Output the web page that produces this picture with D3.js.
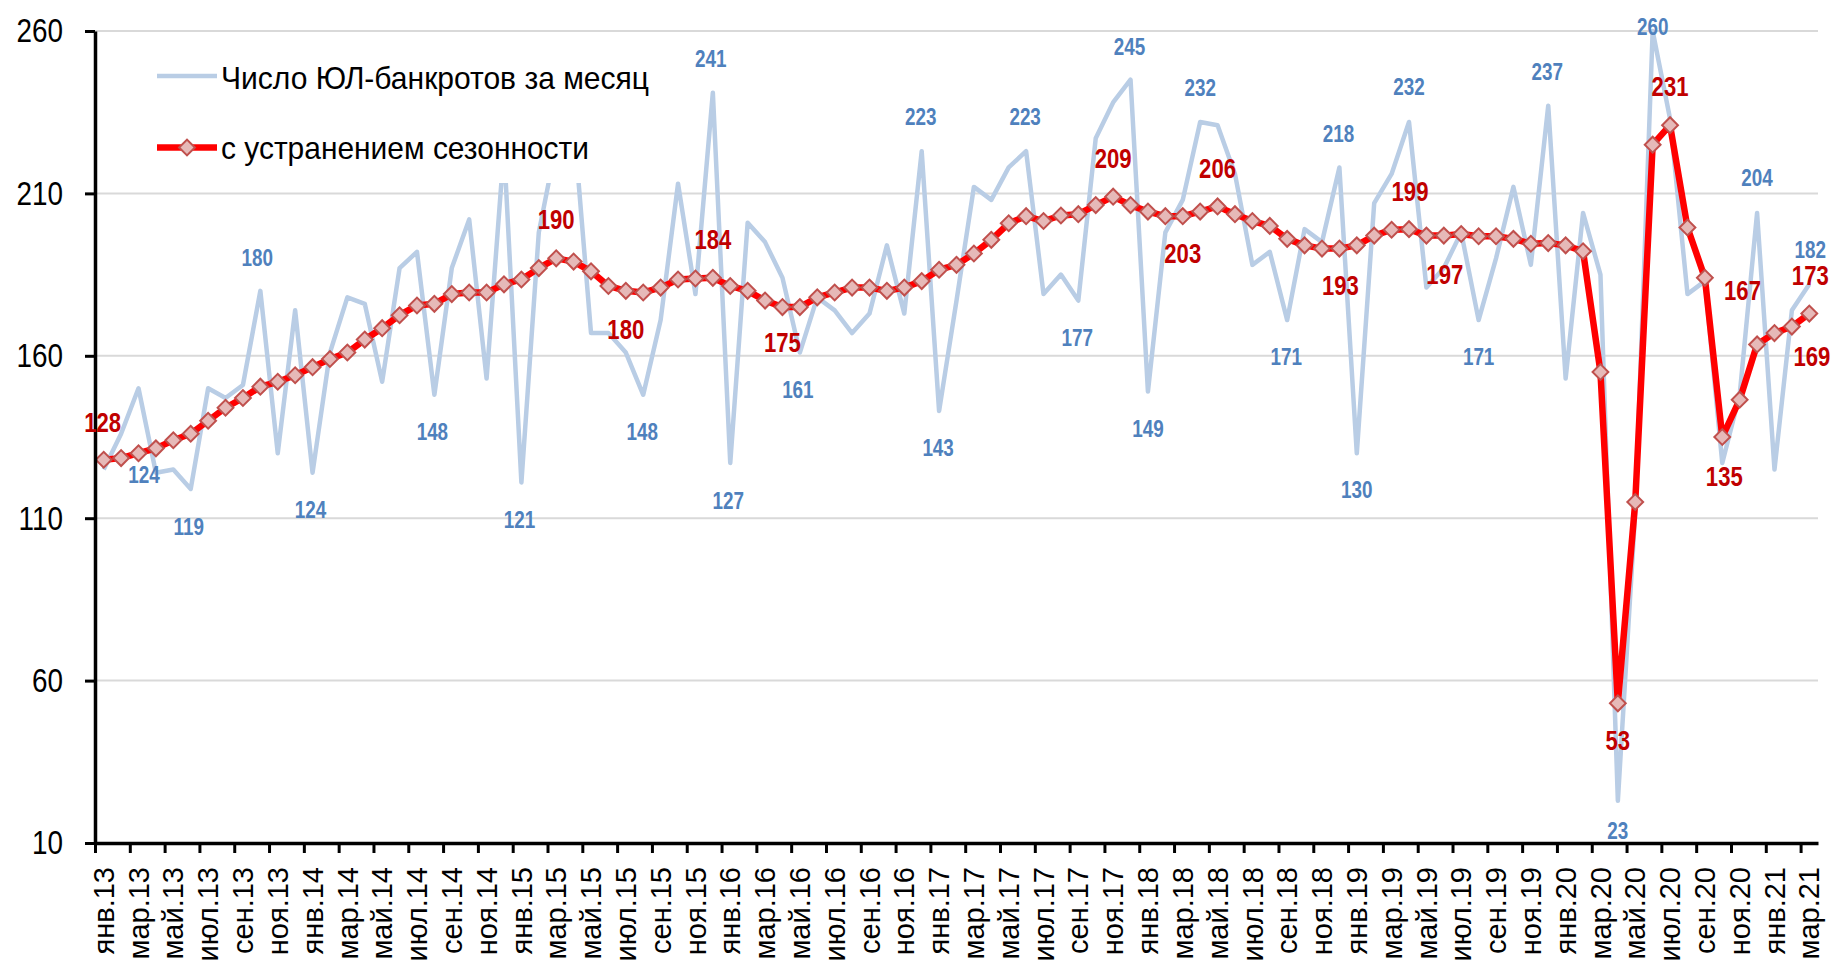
<!DOCTYPE html>
<html><head><meta charset="utf-8">
<script src="https://cdn.jsdelivr.net/npm/d3@7"></script>
<style>body{margin:0;background:#fff}svg{display:block}</style>
</head><body>
<svg id="chart" width="1833" height="964"></svg>
<script>
// ---------- DATA ----------
const categories = [
 "янв.13","фев.13","мар.13","апр.13","май.13","июн.13","июл.13","авг.13","сен.13","окт.13","ноя.13","дек.13",
 "янв.14","фев.14","мар.14","апр.14","май.14","июн.14","июл.14","авг.14","сен.14","окт.14","ноя.14","дек.14",
 "янв.15","фев.15","мар.15","апр.15","май.15","июн.15","июл.15","авг.15","сен.15","окт.15","ноя.15","дек.15",
 "янв.16","фев.16","мар.16","апр.16","май.16","июн.16","июл.16","авг.16","сен.16","окт.16","ноя.16","дек.16",
 "янв.17","фев.17","мар.17","апр.17","май.17","июн.17","июл.17","авг.17","сен.17","окт.17","ноя.17","дек.17",
 "янв.18","фев.18","мар.18","апр.18","май.18","июн.18","июл.18","авг.18","сен.18","окт.18","ноя.18","дек.18",
 "янв.19","фев.19","мар.19","апр.19","май.19","июн.19","июл.19","авг.19","сен.19","окт.19","ноя.19","дек.19",
 "янв.20","фев.20","мар.20","апр.20","май.20","июн.20","июл.20","авг.20","сен.20","окт.20","ноя.20","дек.20",
 "янв.21","фев.21","мар.21"
];
const monthly = [
 125,136,150,124,125,119,150,147,151,180,130,174,
 124,161,178,176,152,187,192,148,187,202,153,224,
 121,198,225,232,167,167,161,148,171,213,179,241,
 127,201,195,184,161,178,174,167,173,194,173,223,
 143,177,212,208,218,223,179,185,177,227,238,245,
 149,198,208,232,231,216,188,192,171,199,195,218,
 130,207,216,232,181,187,198,171,190,212,188,237,
 153,204,185,23,112,260,233,179,183,127,148,204,
 125,174,182
];
const adjusted = [
 128,128.5,130,131.5,134,136,140,144,147,150.5,152,154,
 156.5,159,161,165,168.5,172.5,175.5,176,179,179.5,179.5,182,
 183.5,187,190,189,186,181.5,180,179.5,181,183.5,183.8,184,
 181.5,180,177,175,175,178,179.5,181,181,180,181,183,
 186.5,188,191.5,195.7,200.8,203,201.5,203.2,203.6,206.4,209,206.4,
 204.4,203,203,204.4,206,203.6,201.5,200,196,194,193,193,
 194,197,198.8,199,197,197,197.5,196.8,196.8,196,194.5,194.7,
 194,192.2,155,53,115,225,231,199.5,184,135,146.5,163.5,
 167,169,173
];
const yTicks = [10, 60, 110, 160, 210, 260];
const seriesNames = ["Число ЮЛ-банкротов за месяц", "с устранением сезонности"];
const monthlyLabelIdx = [3,5,9,12,19,24,31,35,36,40,47,48,53,56,59,60,63,68,71,72,75,79,83,87,89,95,98];
const adjustedLabelIdx = [0,26,30,35,39,58,62,64,71,75,77,87,90,93,96,97,98];

// ---------- LAYOUT / STYLE ----------
const monthlyLabelOffset = {3:[-12,2],5:[-2,38],9:[-3,-33],12:[-2,37],19:[-2,37],24:[-2,37],31:[-1,37],
  35:[-2,-34],36:[-2,38],40:[-2,37],47:[-1,-34],48:[-1,37],53:[-1,-34],56:[-1,37],59:[-1,-33],60:[0,37],
  63:[0,-34],68:[-1,37],71:[-1,-34],72:[0,36],75:[0,-35],79:[0,37],83:[-1,-34],87:[0,30],89:[0,-4],95:[0,-35],98:[1,-35]};
const adjustedLabelOffset = {0:[-1,-37],26:[0,-39],30:[0,38],35:[0,-39],39:[0,35],58:[0,-38],62:[0,37],
  64:[0,-38],71:[1,37],75:[1,-38],77:[1,39],87:[0,37],90:[0,-39],93:[2,39],96:[-32,-43],97:[20,30],98:[1,-38]};
const FONT = "'Liberation Sans',Arial,sans-serif";
const NARROW_X = 0.82;   // emulate Arial Narrow
const C = {grid:"#d9d9d9", blue:"#b9cde5", blueText:"#4f81bd", red:"#ff0000", redText:"#c00000",
           mFill:"#e6b9b8", mStroke:"#c0504d"};

const svg = d3.select("#chart");
const X0 = 95, X1 = 1818, Y0 = 31, Y1 = 843;
const x = d3.scaleBand().domain(d3.range(categories.length)).range([X0, X1]);
const cx = i => x(i) + x.bandwidth() / 2;
const xb = d3.scaleLinear().domain([0, categories.length]).range([X0, X1]);
const y = d3.scaleLinear().domain([10, 260]).range([Y1, Y0]);

// gridlines
svg.append("g").selectAll("line").data(yTicks).join("line")
  .attr("x1", X0).attr("x2", X1).attr("y1", d => y(d)).attr("y2", d => y(d))
  .attr("stroke", C.grid).attr("stroke-width", 2);

// monthly line
const line = d3.line().x((d, i) => cx(i)).y(d => y(d));
svg.append("path").datum(monthly).attr("d", line)
  .attr("fill", "none").attr("stroke", C.blue).attr("stroke-width", 4.5).attr("stroke-linejoin", "round");

// adjusted line
svg.append("path").datum(adjusted).attr("d", line)
  .attr("fill", "none").attr("stroke", C.red).attr("stroke-width", 6.5).attr("stroke-linejoin", "round");

const diamond = d3.symbol().type(d3.symbolSquare).size(125);
svg.append("g").selectAll("path").data(adjusted).join("path")
  .attr("d", diamond)
  .attr("transform", (d, i) => `translate(${cx(i)},${y(d)}) rotate(45)`)
  .attr("fill", C.mFill).attr("stroke", C.mStroke).attr("stroke-width", 2);

// axes
const yAxis = svg.append("g").attr("transform", `translate(${X0},0)`)
  .call(d3.axisLeft(y).tickValues(yTicks).tickSize(10).tickSizeOuter(0).tickPadding(22));
yAxis.select(".domain").attr("stroke", "#000").attr("stroke-width", 3.5);
yAxis.selectAll(".tick line").attr("stroke", "#000").attr("stroke-width", 3);
yAxis.selectAll("text").attr("x", 0).attr("transform", `translate(-32,0) scale(${NARROW_X},1)`)
  .attr("font-family", FONT).attr("font-size", 34).attr("fill", "#000");

const xAxis = svg.append("g").attr("transform", `translate(0,${Y1})`)
  .call(d3.axisBottom(xb).tickValues(d3.range(0, categories.length, 2)).tickSize(10).tickSizeOuter(0).tickFormat(""));
xAxis.select(".domain").attr("stroke", "#000").attr("stroke-width", 3.5);
xAxis.selectAll(".tick line").attr("stroke", "#000").attr("stroke-width", 3);

svg.append("g").selectAll("text").data(d3.range(0, categories.length, 2)).join("text")
  .attr("transform", i => `translate(${cx(i)},${Y1 + 24}) rotate(-90)`)
  .attr("text-anchor", "end").attr("dy", "0.35em")
  .attr("font-family", FONT).attr("font-size", 29).attr("fill", "#000")
  .text(i => categories[i]);

// data labels
svg.append("g").selectAll("text").data(monthlyLabelIdx).join("text")
  .attr("transform", i => `translate(${cx(i) + monthlyLabelOffset[i][0]},${y(monthly[i]) + monthlyLabelOffset[i][1]}) scale(${NARROW_X},1)`)
  .attr("dy", "0.36em").attr("text-anchor", "middle")
  .attr("font-family", FONT).attr("font-weight", "bold").attr("font-size", 23)
  .attr("fill", C.blueText).text(i => monthly[i]);

svg.append("g").selectAll("text").data(adjustedLabelIdx).join("text")
  .attr("transform", i => `translate(${cx(i) + adjustedLabelOffset[i][0]},${y(adjusted[i]) + adjustedLabelOffset[i][1]}) scale(${NARROW_X},1)`)
  .attr("dy", "0.36em").attr("text-anchor", "middle")
  .attr("font-family", FONT).attr("font-weight", "bold").attr("font-size", 27)
  .attr("fill", C.redText).text(i => Math.round(adjusted[i]));

// legend
const lg = svg.append("g");
lg.append("rect").attr("x", 135).attr("y", 42).attr("width", 530).attr("height", 141).attr("fill", "#fff");
lg.append("line").attr("x1", 157).attr("x2", 217).attr("y1", 76).attr("y2", 76)
  .attr("stroke", C.blue).attr("stroke-width", 4.5);
lg.append("line").attr("x1", 157).attr("x2", 217).attr("y1", 147.5).attr("y2", 147.5)
  .attr("stroke", C.red).attr("stroke-width", 6.5);
lg.append("path").attr("d", diamond).attr("transform", "translate(187,147.5) rotate(45)")
  .attr("fill", C.mFill).attr("stroke", C.mStroke).attr("stroke-width", 2);
lg.append("text").attr("x", 221).attr("y", 89).attr("font-family", FONT).attr("font-size", 32)
  .attr("textLength", 428).attr("lengthAdjust", "spacingAndGlyphs").text(seriesNames[0]);
lg.append("text").attr("x", 221).attr("y", 159).attr("font-family", FONT).attr("font-size", 32)
  .attr("textLength", 368).attr("lengthAdjust", "spacingAndGlyphs").text(seriesNames[1]);
</script>
</body></html>
